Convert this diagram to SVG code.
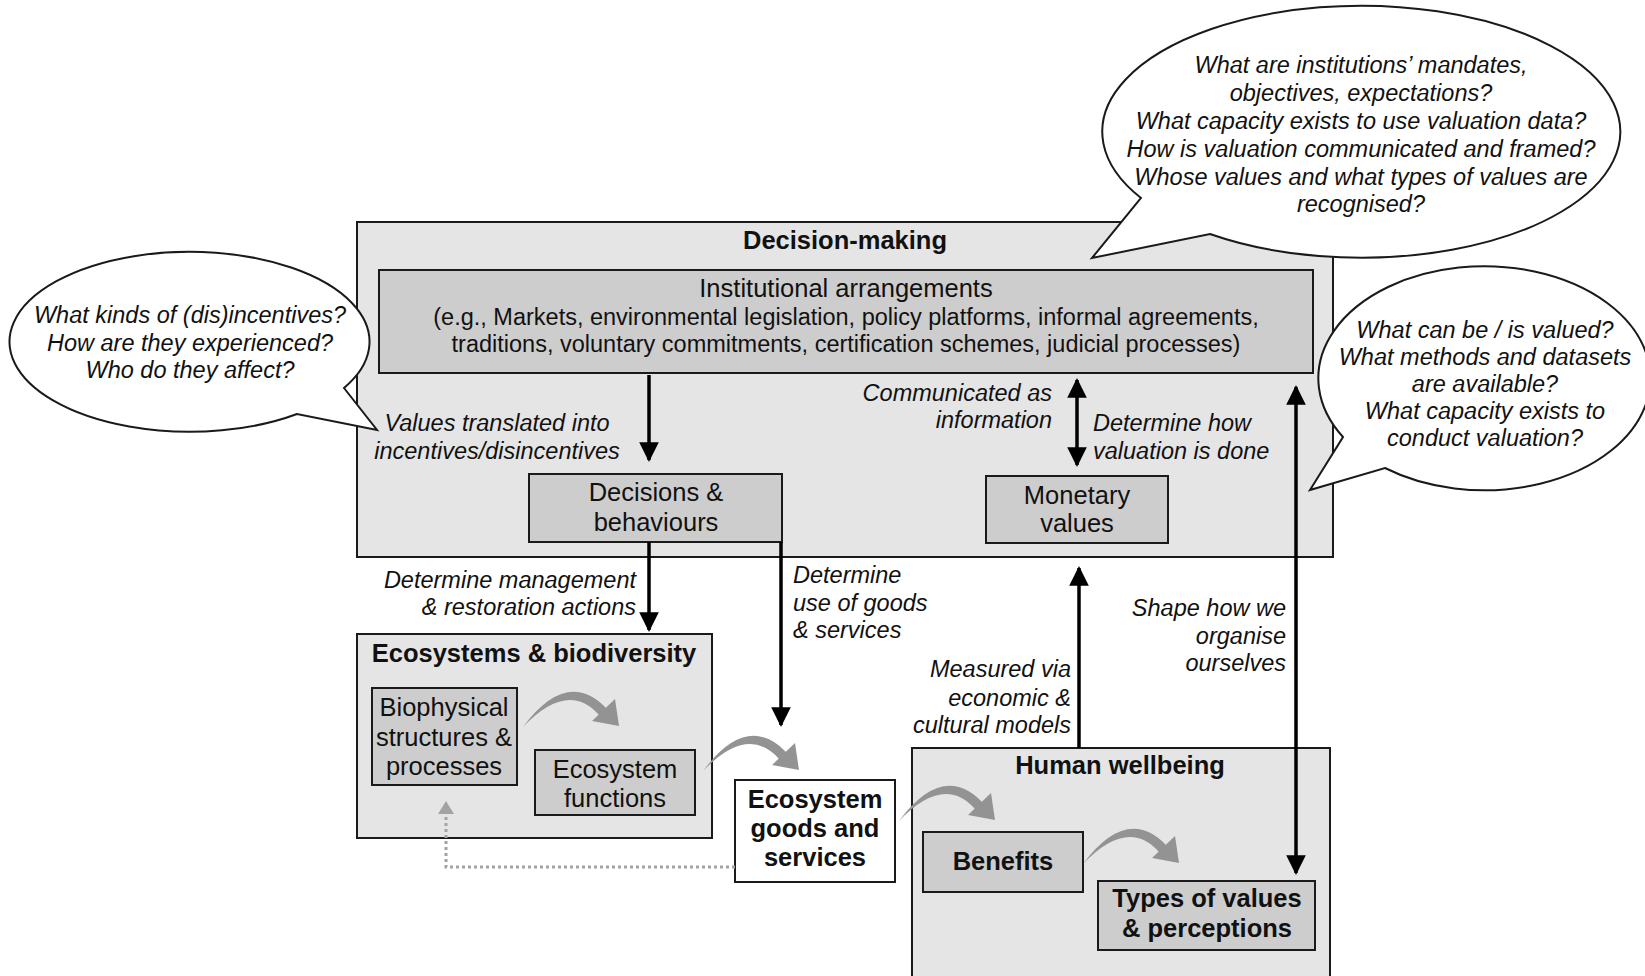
<svg xmlns="http://www.w3.org/2000/svg" width="1645" height="976" viewBox="0 0 1645 976">
<defs>
<style>
.outer{fill:#e5e5e5;stroke:#1a1a1a;stroke-width:2}
.inner{fill:#cdcdcd;stroke:#1a1a1a;stroke-width:2}
.white{fill:#ffffff;stroke:#1a1a1a;stroke-width:2}
.bubble{fill:#ffffff;stroke:#1a1a1a;stroke-width:2;stroke-linejoin:miter}
text{font-family:"Liberation Sans",Arial,sans-serif;fill:#111}
.t{font-size:25.5px;text-anchor:middle}
.tb{font-size:25.5px;font-weight:bold;text-anchor:middle}
.s{font-size:23.5px;text-anchor:middle}
.i{font-size:23.5px;font-style:italic}
.im{font-size:23.5px;font-style:italic;text-anchor:middle}
.ie{font-size:23.5px;font-style:italic;text-anchor:end}
.arr{stroke:#000;stroke-width:3.5;fill:none}
.garr{fill:#939393}
.dot{stroke:#a3a3a3;stroke-width:3;fill:none;stroke-dasharray:3 3}
</style>
<marker id="ah" viewBox="0 0 10 10" refX="9" refY="5" markerWidth="5.8" markerHeight="5.6" orient="auto-start-reverse" markerUnits="strokeWidth">
<path d="M0,0 L10,5 L0,10 Z" fill="#000"/>
</marker>
<path id="curv" d="M0,0 Q44,-59 83,-19 L76,-12 Q45,-47 0,0 Z M69,-6 L92,-28 L96,-1 Z"/>
</defs>

<g id="decision-making">
<rect class="outer" x="357" y="222" width="976" height="335"/>
<text class="tb" x="845" y="249">Decision-making</text>
</g>

<g id="institutional-arrangements">
<rect class="inner" x="379" y="270" width="934" height="103"/>
<text class="t" x="846" y="297">Institutional arrangements</text>
<text class="s" x="846" y="325">(e.g., Markets, environmental legislation, policy platforms, informal agreements,</text>
<text class="s" x="846" y="352">traditions, voluntary commitments, certification schemes, judicial processes)</text>
</g>

<g id="decisions-behaviours">
<rect class="inner" x="529" y="474" width="253" height="68"/>
<text class="t" x="656" y="501">Decisions &amp;</text>
<text class="t" x="656" y="531">behaviours</text>
</g>

<g id="monetary-values">
<rect class="inner" x="986" y="476" width="182" height="67"/>
<text class="t" x="1077" y="504">Monetary</text>
<text class="t" x="1077" y="532">values</text>
</g>

<g id="ecosystems-biodiversity">
<rect class="outer" x="357" y="634" width="355" height="204"/>
<text class="tb" x="534" y="662">Ecosystems &amp; biodiversity</text>
</g>

<g id="biophysical">
<rect class="inner" x="372" y="688" width="145" height="97"/>
<text class="t" x="444" y="716">Biophysical</text>
<text class="t" x="444" y="746">structures &amp;</text>
<text class="t" x="444" y="775">processes</text>
</g>

<g id="ecosystem-functions">
<rect class="inner" x="535" y="750" width="160" height="65"/>
<text class="t" x="615" y="778">Ecosystem</text>
<text class="t" x="615" y="807">functions</text>
</g>

<g id="ecosystem-goods-services">
<rect class="white" x="735" y="780" width="160" height="102"/>
<text class="tb" x="815" y="808">Ecosystem</text>
<text class="tb" x="815" y="837">goods and</text>
<text class="tb" x="815" y="866">services</text>
</g>

<g id="human-wellbeing">
<rect class="outer" x="912" y="748" width="418" height="260"/>
<text class="tb" x="1120" y="774">Human wellbeing</text>
</g>

<g id="benefits">
<rect class="inner" x="923" y="832" width="160" height="60"/>
<text class="tb" x="1003" y="870">Benefits</text>
</g>

<g id="types-of-values">
<rect class="inner" x="1098" y="881" width="217" height="69"/>
<text class="tb" x="1207" y="907">Types of values</text>
<text class="tb" x="1207" y="937">&amp; perceptions</text>
</g>

<g id="connectors">
<line class="arr" x1="649" y1="375" x2="649" y2="460" marker-end="url(#ah)"/>
<line class="arr" x1="1077" y1="380" x2="1077" y2="465" marker-start="url(#ah)" marker-end="url(#ah)"/>
<line class="arr" x1="1296" y1="387" x2="1296" y2="873" marker-start="url(#ah)" marker-end="url(#ah)"/>
<line class="arr" x1="649" y1="542" x2="649" y2="630" marker-end="url(#ah)"/>
<line class="arr" x1="781" y1="542" x2="781" y2="725" marker-end="url(#ah)"/>
<line class="arr" x1="1079" y1="748" x2="1079" y2="568" marker-end="url(#ah)"/>
<use href="#curv" class="garr" x="523" y="727"/>
<use href="#curv" class="garr" x="703" y="771"/>
<use href="#curv" class="garr" x="899" y="821"/>
<use href="#curv" class="garr" x="1083" y="864"/>
<polyline class="dot" points="735,867 446,867 446,812"/>
<path d="M438,814 L446,801 L454,814 Z" fill="#a3a3a3"/>
</g>

<g id="labels">
<text class="im" x="497" y="431">Values translated into</text>
<text class="im" x="497" y="459">incentives/disincentives</text>
<text class="ie" x="1052" y="401">Communicated as</text>
<text class="ie" x="1052" y="428">information</text>
<text class="i" x="1093" y="431">Determine how</text>
<text class="i" x="1093" y="459">valuation is done</text>
<text class="ie" x="636" y="588">Determine management</text>
<text class="ie" x="636" y="615">&amp; restoration actions</text>
<text class="i" x="793" y="583">Determine</text>
<text class="i" x="793" y="611">use of goods</text>
<text class="i" x="793" y="638">&amp; services</text>
<text class="ie" x="1071" y="677">Measured via</text>
<text class="ie" x="1071" y="706">economic &amp;</text>
<text class="ie" x="1071" y="733">cultural models</text>
<text class="ie" x="1286" y="616">Shape how we</text>
<text class="ie" x="1286" y="644">organise</text>
<text class="ie" x="1286" y="671">ourselves</text>
</g>

<g id="bubble-incentives">
<path class="bubble" d="M344,388 A180 90 0 1 0 297,414 L377,430 Z"/>
<text class="im" x="190" y="323">What kinds of (dis)incentives?</text>
<text class="im" x="190" y="351">How are they experienced?</text>
<text class="im" x="190" y="378">Who do they affect?</text>
</g>

<g id="bubble-institutions">
<path class="bubble" d="M1210,234 A259 126 0 1 0 1141,198 L1092,258 Z"/>
<text class="im" x="1361" y="73">What are institutions’ mandates,</text>
<text class="im" x="1361" y="101">objectives, expectations?</text>
<text class="im" x="1361" y="129">What capacity exists to use valuation data?</text>
<text class="im" x="1361" y="157">How is valuation communicated and framed?</text>
<text class="im" x="1361" y="185">Whose values and what types of values are</text>
<text class="im" x="1361" y="212">recognised?</text>
</g>

<g id="bubble-valuation">
<path class="bubble" d="M1385,468 A166 112 0 1 0 1343,437 L1310,490 Z"/>
<text class="im" x="1485" y="338">What can be / is valued?</text>
<text class="im" x="1485" y="365">What methods and datasets</text>
<text class="im" x="1485" y="392">are available?</text>
<text class="im" x="1485" y="419">What capacity exists to</text>
<text class="im" x="1485" y="446">conduct valuation?</text>
</g>
</svg>
